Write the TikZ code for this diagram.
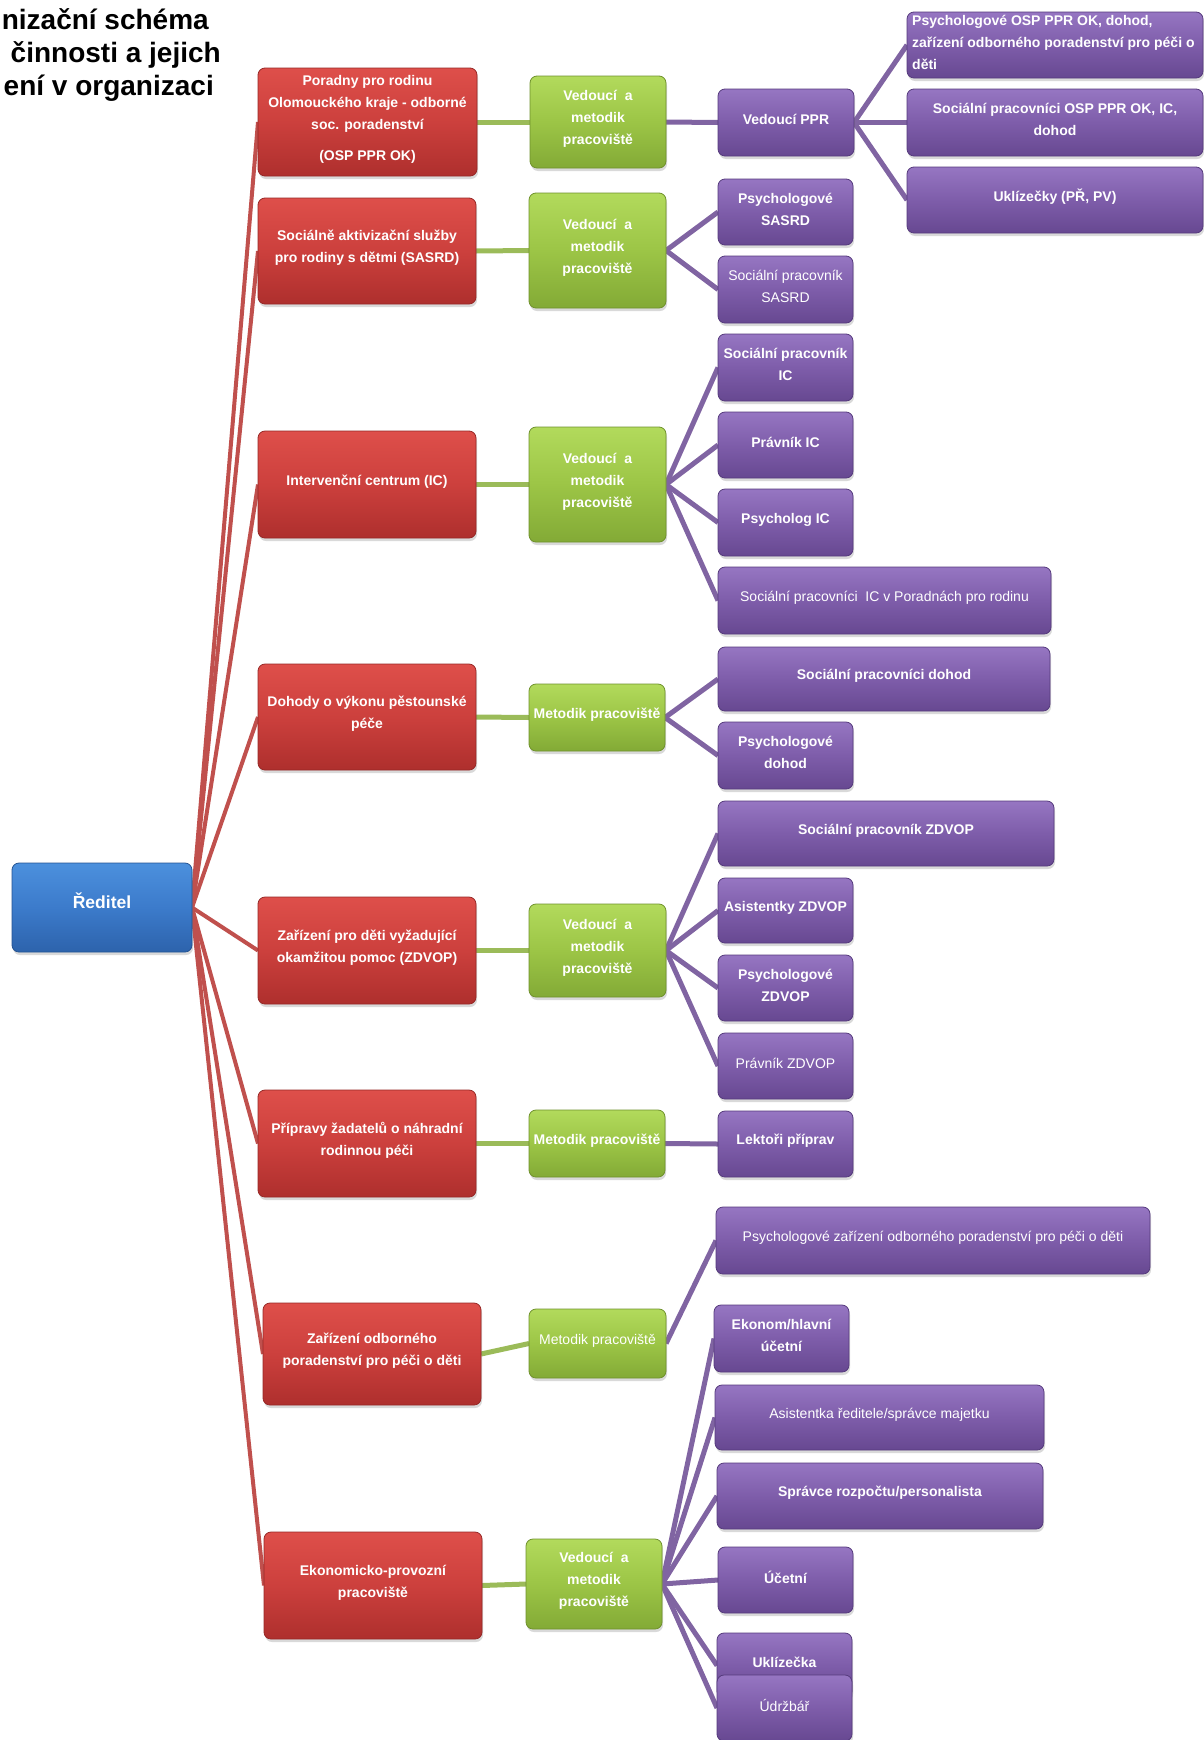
\documentclass[tikz,border=0pt]{standalone}
\usepackage{fontspec}
\setmainfont{Liberation Sans}
\usetikzlibrary{shadows,backgrounds}
\definecolor{redT}{HTML}{DE4F4A}
\definecolor{redM}{HTML}{CC403D}
\definecolor{redB}{HTML}{AE2F2D}
\definecolor{redE}{HTML}{962826}
\definecolor{grnT}{HTML}{B2DA5C}
\definecolor{grnM}{HTML}{9CC546}
\definecolor{grnB}{HTML}{83AA36}
\definecolor{grnE}{HTML}{6F912C}
\definecolor{purT}{HTML}{9676C2}
\definecolor{purM}{HTML}{7E5DAA}
\definecolor{purB}{HTML}{674891}
\definecolor{purE}{HTML}{553A7C}
\definecolor{bluT}{HTML}{4C90DD}
\definecolor{bluM}{HTML}{3C7BCB}
\definecolor{bluB}{HTML}{2D63AC}
\definecolor{bluE}{HTML}{245392}
\definecolor{redL}{HTML}{C0504D}
\definecolor{grnL}{HTML}{9BBB59}
\definecolor{purL}{HTML}{8064A2}
\tikzset{
  boxbase/.style={rounded corners=7pt, draw, line width=0.8pt, inner sep=0pt, outer sep=0pt,
    drop shadow={opacity=0.3, shadow xshift=1pt, shadow yshift=-3pt}},
  redbox/.style={boxbase, draw=redE, top color=redT, bottom color=redB, middle color=redM},
  grnbox/.style={boxbase, draw=grnE, top color=grnT, bottom color=grnB, middle color=grnM},
  purbox/.style={boxbase, draw=purE, top color=purT, bottom color=purB, middle color=purM},
  blubox/.style={boxbase, draw=bluE, top color=bluT, bottom color=bluB, middle color=bluM},
  tb/.style={text=white, font=\fontsize{14}{22}\selectfont\bfseries, align=center, inner sep=0pt},
  tr/.style={text=white, font=\fontsize{14}{22}\selectfont, align=center, inner sep=0pt},
  titletext/.style={text=black, font=\fontsize{28}{33}\selectfont\bfseries, inner sep=0pt, anchor=base east},
  redline/.style={draw=redL, line width=4pt},
  grnline/.style={draw=grnL, line width=5pt},
  purline/.style={draw=purL, line width=5pt},
}
% name, box style, x1, y1, x2, y2, text style, text
\newcommand\bx[8]{%
  \node[#2, minimum width={(#5-#3)*1pt}, minimum height={(#6-#4)*1pt}] (#1) at ({(#3+#5)/2},{(#4+#6)/2}) {};
  \node[#7] (#1t) at ([yshift=3pt]#1.center) {#8};}
\begin{document}
\begin{tikzpicture}[x=1pt,y=-1pt]
\useasboundingbox (0,0) rectangle (1204,1740);
% title
\node[titletext] (ti1) at (209,29) {nizační schéma};
\node[titletext] (ti2) at (221,62) {činnosti a jejich};
\node[titletext] (ti3) at (214,95) {ení v organizaci};
% director
\node[blubox, minimum width=180pt, minimum height=89pt] (ceo) at (102,907.5) {};
\node[tb, font=\fontsize{17.5}{22}\selectfont\bfseries] (ceot) at ([yshift=7pt]ceo.center) {Ředitel};
% red units
\bx{r1}{redbox}{258}{68}{477}{176}{tb}{Poradny pro rodinu\\Olomouckého kraje - odborné\\soc. poradenství\\[9pt](OSP PPR OK)}
\bx{r2}{redbox}{258}{198}{476}{304}{tb}{Sociálně aktivizační služby\\pro rodiny s dětmi (SASRD)}
\bx{r3}{redbox}{258}{431}{476}{538}{tb}{Intervenční centrum (IC)}
\bx{r4}{redbox}{258}{664}{476}{770}{tb}{Dohody o výkonu pěstounské\\péče}
\bx{r5}{redbox}{258}{897}{476}{1004}{tb}{Zařízení pro děti vyžadující\\okamžitou pomoc (ZDVOP)}
\bx{r6}{redbox}{258}{1090}{476}{1197}{tb}{Přípravy žadatelů o náhradní\\rodinnou péči}
\bx{r7}{redbox}{263}{1303}{481}{1405}{tb}{Zařízení odborného\\poradenství pro péči o děti}
\bx{r8}{redbox}{264}{1532}{482}{1639}{tb}{Ekonomicko-provozní\\pracoviště}
% green
\bx{g1}{grnbox}{530}{76}{666}{168}{tb}{Vedoucí~~a\\metodik\\pracoviště}
\bx{g2}{grnbox}{529}{193}{666}{308}{tb}{Vedoucí~~a\\metodik\\pracoviště}
\bx{g3}{grnbox}{529}{427}{666}{542}{tb}{Vedoucí~~a\\metodik\\pracoviště}
\bx{g4}{grnbox}{529}{684}{665}{751}{tb}{Metodik pracoviště}
\bx{g5}{grnbox}{529}{904}{666}{997}{tb}{Vedoucí~~a\\metodik\\pracoviště}
\bx{g6}{grnbox}{529}{1110}{665}{1177}{tb}{Metodik pracoviště}
\bx{g7}{grnbox}{529}{1309}{666}{1378}{tr}{Metodik pracoviště}
\bx{g8}{grnbox}{526}{1539}{662}{1629}{tb}{Vedoucí~~a\\metodik\\pracoviště}
% purple
\bx{p1}{purbox}{718}{89}{854}{156}{tb}{Vedoucí PPR}
\bx{p2}{purbox}{718}{179}{853}{245}{tb}{Psychologové\\SASRD}
\bx{p3}{purbox}{718}{256}{853}{323}{tr}{Sociální pracovník\\SASRD}
\bx{p4}{purbox}{718}{334}{853}{401}{tb}{Sociální pracovník\\IC}
\bx{p5}{purbox}{718}{412}{853}{478}{tb}{Právník IC}
\bx{p6}{purbox}{718}{489}{853}{556}{tb}{Psycholog IC}
\bx{p7}{purbox}{718}{567}{1051}{634}{tr}{Sociální pracovníci~~IC v Poradnách pro rodinu}
\bx{p8}{purbox}{718}{647}{1050}{711}{tb}{Sociální pracovníci dohod}
\bx{p9}{purbox}{718}{722}{853}{789}{tb}{Psychologové\\dohod}
\bx{p10}{purbox}{718}{801}{1054}{866}{tb}{Sociální pracovník ZDVOP}
\bx{p11}{purbox}{718}{878}{853}{943}{tb}{Asistentky ZDVOP}
\bx{p12}{purbox}{718}{955}{853}{1021}{tb}{Psychologové\\ZDVOP}
\bx{p13}{purbox}{718}{1033}{853}{1099}{tr}{Právník ZDVOP}
\bx{p14}{purbox}{718}{1111}{853}{1177}{tb}{Lektoři příprav}
\bx{p15}{purbox}{716}{1207}{1150}{1274}{tr}{Psychologové zařízení odborného poradenství pro péči o děti}
\bx{p16}{purbox}{714}{1305}{849}{1372}{tb}{Ekonom/hlavní\\účetní}
\bx{p17}{purbox}{715}{1385}{1044}{1450}{tr}{Asistentka ředitele/správce majetku}
\bx{p18}{purbox}{717}{1463}{1043}{1529}{tb}{Správce rozpočtu/personalista}
\bx{p19}{purbox}{718}{1547}{853}{1613}{tb}{Účetní}
\bx{p20}{purbox}{717}{1633}{852}{1698}{tb}{Uklízečka}
\bx{p21}{purbox}{717}{1675}{852}{1741}{tr}{Údržbář}
% right column
\node[purbox, minimum width=296pt, minimum height=66pt] (q1) at (1055,45) {};
\node[tb, align=left, anchor=west] (q1t) at (912,42) {Psychologové OSP PPR OK, dohod,\\zařízení odborného poradenství pro péči o\\děti};
\bx{q2}{purbox}{907}{89}{1203}{156}{tb}{Sociální pracovníci OSP PPR OK, IC,\\dohod}
\bx{q3}{purbox}{907}{167}{1203}{233}{tb}{Uklízečky (PŘ, PV)}
% connectors
\begin{scope}[on background layer]
  \foreach \k in {1,...,8} {\path[redline] (ceo.east) -- (r\k.west);}
  \foreach \k in {1,...,8} {\path[grnline] (r\k.east) -- (g\k.west);}
  \path[purline] (g1.east) -- (p1.west);
  \foreach \q in {q1,q2,q3} {\path[purline] (p1.east) -- (\q.west);}
  \foreach \q in {p2,p3} {\path[purline] (g2.east) -- (\q.west);}
  \foreach \q in {p4,p5,p6,p7} {\path[purline] (g3.east) -- (\q.west);}
  \foreach \q in {p8,p9} {\path[purline] (g4.east) -- (\q.west);}
  \foreach \q in {p10,p11,p12,p13} {\path[purline] (g5.east) -- (\q.west);}
  \path[purline] (g6.east) -- (p14.west);
  \path[purline] (g7.east) -- (p15.west);
  \foreach \q in {p16,p17,p18,p19,p20,p21} {\path[purline] (g8.east) -- (\q.west);}
\end{scope}
\end{tikzpicture}
\end{document}
